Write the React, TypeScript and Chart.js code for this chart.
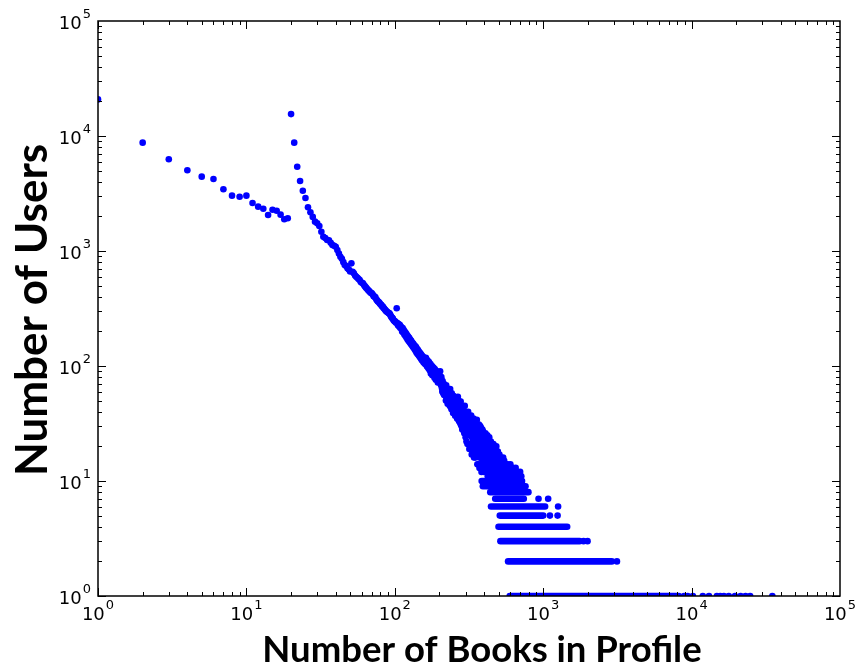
import { useEffect, useRef } from "react";
import { Chart, registerables } from "chart.js";

Chart.register(...registerables);

const BLUE = "#0000ff";

// Decade ticks shared by both log axes (base 10, exponent)
const decadeValues = [1, 10, 100, 1000, 10000, 100000];
const decadeExponents = ["0", "1", "2", "3", "4", "5"];

const xTitle = "Number of Books in Profile";
const yTitle = "Number of Users";

// Profiles with 1 to 100 books: one user count per profile size
const smallBooks = [
  1, 2, 3, 4, 5, 6, 7, 8, 9, 10, 11, 12, 13, 14, 15, 16, 17, 18, 19, 20,
  21, 22, 23, 24, 25, 26, 27, 28, 29, 30, 31, 32, 33, 34, 35, 36, 37, 38, 39, 40,
  41, 42, 43, 44, 45, 46, 47, 48, 49, 50, 51, 52, 53, 54, 55, 56, 57, 58, 59, 60,
  61, 62, 63, 64, 65, 66, 67, 68, 69, 70, 71, 72, 73, 74, 75, 76, 77, 78, 79, 80,
  81, 82, 83, 84, 85, 86, 87, 88, 89, 90, 91, 92, 93, 94, 95, 96, 97, 98, 99, 100,
];
const smallUsers = [
  20800, 8750, 6270, 5030, 4430, 4230, 3440, 3030, 2965, 3030, 2615, 2430, 2330, 2055, 2285, 2240, 2070, 1890, 1925, 15500,
  8750, 5410, 4060, 3345, 2890, 2400, 2170, 1980, 1800, 1740, 1650, 1470, 1330, 1297, 1247, 1240, 1180, 1127, 1110, 1089,
  1020, 950, 892, 857, 800, 755, 740, 707, 690, 665, 781, 661, 640, 612, 598, 585, 570, 560, 538, 530,
  524, 505, 492, 480, 470, 458, 450, 440, 432, 429, 418, 405, 401, 395, 380, 372, 363, 360, 352, 344,
  340, 331, 328, 320, 315, 308, 303, 298, 295, 292, 288, 287, 280, 272, 266, 262, 258, 251, 247, 244,
];

// Larger profiles with more than 10 users
const largeBooks = [
  101, 102, 103, 104, 105, 106, 107, 108, 109, 110, 111, 112, 113, 114, 115, 116, 117, 118, 119, 120,
  121, 122, 123, 124, 125, 126, 127, 128, 129, 130, 131, 132, 133, 134, 135, 136, 137, 138, 139, 140,
  141, 142, 143, 144, 145, 146, 147, 148, 149, 150, 151, 152, 153, 154, 155, 156, 157, 158, 159, 160,
  162, 164, 166, 168, 170, 172, 174, 176, 178, 180, 182, 184, 186, 188, 190, 192, 194, 196, 198, 200,
  202, 204, 206, 208, 210, 212, 214, 216, 218, 220, 222, 224, 226, 228, 230, 232, 234, 236, 238, 240,
  242, 244, 246, 248, 250, 252, 254, 256, 258, 260, 262, 264, 266, 268, 270, 272, 274, 276, 278, 280,
  282, 284, 286, 288, 290, 292, 294, 296, 298, 300,
  303, 306, 309, 312, 315, 318, 321, 324, 327, 330, 333, 336, 339, 342, 345, 348, 351, 354, 357, 360,
  363, 366, 369, 372, 375, 378, 381, 384, 387, 390, 393, 396, 399, 402, 405, 408, 411, 414, 417, 420,
  423, 426, 429, 432, 435, 438, 441, 444, 447, 450, 453, 456, 459, 462, 465, 468, 471, 474, 477, 480,
  483, 486, 489, 492, 495, 498, 501, 504, 507, 510, 513, 516, 519, 522, 525, 528, 531, 534, 537, 540,
  543, 546, 549, 552, 555, 558,
  565, 571, 577, 583, 589, 595, 601, 607, 614, 621, 628, 636, 644, 652, 660, 669, 678, 688, 699, 712,
];
const largeUsers = [
  243, 238, 318, 236, 226, 232, 221, 228, 214, 220, 212, 200, 214, 196, 205, 188, 198, 182, 192, 176,
  186, 170, 180, 165, 176, 161, 170, 156, 166, 152, 160, 148, 157, 144, 152, 140, 149, 136, 146, 131,
  141, 128, 138, 125, 134, 122, 131, 119, 128, 116, 125, 113, 122, 111, 120, 108, 117, 106, 114, 104,
  118, 101, 112, 97, 108, 92, 104, 90, 100, 86, 97, 84, 94, 80, 91, 78, 88, 75, 85, 73,
  90, 70, 80, 64, 74, 58, 70, 61, 66, 55, 68, 52, 62, 49, 60, 54, 46, 63, 51, 44,
  58, 48, 42, 55, 46, 40, 53, 44, 38, 50, 41, 36, 54, 44, 34, 47, 39, 32, 49, 37,
  30, 44, 35, 28, 41, 33, 26, 45, 31, 24,
  36, 27, 21, 40, 30, 19, 34, 25, 37, 17, 29, 22, 35, 16, 27, 32, 19, 24, 34, 14,
  28, 21, 31, 13, 25, 18, 29, 12, 23, 15, 27, 20, 12, 24, 17, 26, 13, 21, 15, 25,
  11, 19, 23, 14, 21, 12, 18, 22, 13, 16, 20, 11, 17, 21, 12, 15, 19, 13, 17, 11,
  20, 14, 16, 12, 18, 13, 15, 11, 17, 14, 12, 16, 13, 11, 15, 12, 14, 11, 16, 13,
  12, 15, 11, 13, 14, 11,
  13, 12, 14, 11, 13, 12, 14, 11, 12, 13, 11, 12, 11, 13, 11, 12, 11, 11, 12, 11,
];

// Remaining profile sizes in the 161–560 range
const midBooks = [
  161, 163, 165, 167, 169, 171, 173, 175, 177, 179, 181, 183, 185, 187, 189, 191, 193, 195, 197, 199,
  201, 203, 205, 207, 209, 211, 213, 215, 217, 219, 221, 223, 225, 227, 229, 231, 233, 235, 237, 239,
  241, 243, 245, 247, 249, 251, 253, 255, 257, 259, 261, 263, 265, 267, 269, 271, 273, 275, 277, 279,
  281, 283, 285, 287, 289, 291, 293, 295, 297, 299,
  301, 304, 307, 310, 313, 316, 319, 322, 325, 328, 331, 334, 337, 340, 343, 346, 349, 352, 355, 358,
  361, 364, 367, 370, 373, 376, 379, 382, 385, 388, 391, 394, 397, 400, 403, 406, 409, 412, 415, 418,
  421, 424, 427, 430, 433, 436, 439, 442, 445, 448, 451, 454, 457, 460, 463, 466, 469, 472, 475, 478,
  481, 484, 487, 490, 493, 496, 499, 502, 505, 508, 511, 514, 517, 520, 523, 526, 529, 532, 535, 538,
  541, 544, 547, 550, 553, 556,
  362, 365, 368, 371, 374, 377, 380, 383, 386, 389, 392, 395, 398, 401, 404, 407, 410, 413, 416, 419,
  422, 425, 428, 431, 434, 437, 440, 443, 446, 449, 452, 455, 458, 461, 464, 467, 470, 473, 476, 479,
  482, 485, 488, 491, 494, 497, 500, 503, 506, 509, 512, 515, 518, 521, 524, 527, 530, 533, 536, 539,
  542, 545, 548, 551, 554, 557, 560,
];
const midUsers = [
  110, 106, 99, 109, 95, 101, 96, 86, 94, 83, 91, 88, 79, 85, 76, 86, 80, 72, 82, 77,
  82, 76, 68, 72, 60, 66, 63, 56, 64, 59, 50, 58, 61, 47, 55, 50, 58, 45, 56, 50,
  42, 52, 47, 39, 49, 53, 43, 37, 47, 41, 48, 35, 44, 39, 50, 33, 42, 37, 45, 31,
  40, 35, 28, 43, 32, 37, 27, 40, 29, 35,
  30, 22, 38, 26, 33, 21, 28, 36, 20, 31, 24, 18, 30, 26, 33, 20, 16, 28, 22, 30,
  17, 25, 14, 27, 20, 30, 16, 24, 13, 20, 26, 14, 22, 18, 25, 12, 19, 23, 16, 13,
  22, 17, 12, 20, 24, 13, 18, 15, 20, 12, 17, 21, 13, 19, 15, 18, 12, 20, 14, 16,
  12, 18, 13, 17, 11, 15, 17, 12, 16, 13, 15, 11, 14, 12, 15, 11, 13, 15, 12, 14,
  11, 13, 12, 14, 12, 13,
  22, 18, 26, 16, 29, 21, 13, 25, 18, 28, 16, 23, 19, 14, 21, 24, 15, 19, 22, 13,
  18, 21, 15, 17, 12, 19, 16, 13, 18, 14, 12, 16, 19, 14, 17, 13, 16, 18, 12, 15,
  13, 16, 12, 15, 14, 11, 16, 13, 14, 12, 13, 14, 11, 13, 12, 14, 11, 13, 12, 11,
  14, 12, 13, 11, 12, 14, 12,
];

// Low counts (10 users and fewer) fill unbroken runs of profile sizes
const runUsers = [10, 9, 8, 7, 6, 5, 4, 3, 2, 1];
const runFirstBook = [385, 392, 440, 475, 445, 510, 500, 515, 580, 595];
const runLastBook = [720, 760, 795, 740, 1030, 1000, 1450, 1760, 2900, 7900];

// Isolated low-count profiles past the end of each run
const strayBooks = [
  930, 1080, 1260, 1110, 1250, 1870, 1990, 3140,
  8200, 8900, 9400, 10200, 11900, 13100, 14800, 15600, 16500, 17800, 19600, 21400, 23100, 24800, 35000,
];
const strayUsers = [
  7, 7, 6, 5, 5, 3, 3, 2,
  1, 1, 1, 1, 1, 1, 1, 1, 1, 1, 1, 1, 1, 1, 1,
];

const BASE_FONT = "18px 'DejaVu Sans'";
const EXP_FONT = "13px 'DejaVu Sans'";

// Inward major/minor ticks on all four sides, the plot box, decade labels and axis titles
const axisFrame = {
  id: "axisFrame",
  afterDatasetsDraw(chart: any) {
    const { ctx, chartArea, scales } = chart;
    const { left, right, top, bottom } = chartArea;
    const xs = scales.x;
    const ys = scales.y;
    ctx.save();
    ctx.strokeStyle = "#000";
    ctx.lineWidth = 1;
    ctx.beginPath();
    for (let d = 0; d < 5; d++) {
      for (let m = 1; m <= 9; m++) {
        const v = m * Math.pow(10, d);
        const len = m === 1 ? 8 : 4;
        const px = Math.round(xs.getPixelForValue(v)) + 0.5;
        ctx.moveTo(px, bottom);
        ctx.lineTo(px, bottom - len);
        ctx.moveTo(px, top);
        ctx.lineTo(px, top + len);
        const py = Math.round(ys.getPixelForValue(v)) + 0.5;
        ctx.moveTo(left, py);
        ctx.lineTo(left + len, py);
        ctx.moveTo(right, py);
        ctx.lineTo(right - len, py);
      }
    }
    ctx.stroke();
    ctx.lineWidth = 1.5;
    ctx.strokeRect(left, top, right - left, bottom - top);

    // decade labels: "10" with a raised exponent
    ctx.fillStyle = "#000";
    ctx.textBaseline = "alphabetic";
    ctx.textAlign = "left";
    decadeValues.forEach((v, i) => {
      const exp = decadeExponents[i];
      ctx.font = BASE_FONT;
      const wb = ctx.measureText("10").width;
      ctx.font = EXP_FONT;
      const we = ctx.measureText(exp).width;
      const total = wb + we + 1;

      const px = xs.getPixelForValue(v);
      const lx = px - total / 2;
      ctx.font = BASE_FONT;
      ctx.fillText("10", lx, bottom + 24);
      ctx.font = EXP_FONT;
      ctx.fillText(exp, lx + wb + 1, bottom + 13);

      const py = ys.getPixelForValue(v);
      const rx = left - 7 - total;
      ctx.font = BASE_FONT;
      ctx.fillText("10", rx, py + 7.5);
      ctx.font = EXP_FONT;
      ctx.fillText(exp, rx + wb + 1, py - 3);
    });

    // axis titles
    ctx.font = "bold 36.5px Lato";
    ctx.textAlign = "center";
    ctx.fillText(xTitle, 482, 662);
    ctx.save();
    ctx.translate(32.5, 310);
    ctx.rotate(-Math.PI / 2);
    ctx.font = "bold 44px Lato";
    ctx.textBaseline = "middle";
    ctx.fillText(yTitle, 0, 0);
    ctx.restore();

    ctx.restore();
  },
};

export default function App() {
  const canvasRef = useRef<HTMLCanvasElement | null>(null);

  useEffect(() => {
    const canvas = canvasRef.current;
    if (!canvas) return;

    const dotStyle = {
      pointRadius: 3.3,
      pointBorderWidth: 0,
      pointBackgroundColor: BLUE,
      backgroundColor: BLUE,
      borderColor: BLUE,
      showLine: false,
    };

    const runSets = runUsers.map((u, i) => ({
      label: `run-${u}`,
      data: [
        { x: runFirstBook[i], y: u },
        { x: runLastBook[i], y: u },
      ],
      showLine: true,
      borderColor: BLUE,
      backgroundColor: BLUE,
      borderWidth: 6.6,
      borderCapStyle: "round" as const,
      pointRadius: 0,
    }));

    const chart = new Chart(canvas, {
      type: "scatter",
      data: {
        datasets: [
          {
            label: "small",
            data: smallBooks.map((b, i) => ({ x: b, y: smallUsers[i] })),
            ...dotStyle,
          },
          {
            label: "large",
            data: largeBooks.map((b, i) => ({ x: b, y: largeUsers[i] })),
            ...dotStyle,
          },
          {
            label: "mid",
            data: midBooks.map((b, i) => ({ x: b, y: midUsers[i] })),
            ...dotStyle,
          },
          {
            label: "stray",
            data: strayBooks.map((b, i) => ({ x: b, y: strayUsers[i] })),
            ...dotStyle,
          },
          ...runSets,
        ] as any,
      },
      options: {
        animation: false,
        responsive: false,
        devicePixelRatio: 1,
        events: [],
        layout: { padding: { top: 21, right: 22, left: 0, bottom: 0 } },
        plugins: {
          legend: { display: false },
          tooltip: { enabled: false },
        },
        scales: {
          x: {
            type: "logarithmic",
            position: "bottom",
            min: 1,
            max: 100000,
            grid: { display: false },
            border: { display: false },
            ticks: { display: false },
            afterFit: (s: any) => {
              s.height = 75;
            },
          },
          y: {
            type: "logarithmic",
            position: "left",
            min: 1,
            max: 100000,
            grid: { display: false },
            border: { display: false },
            ticks: { display: false },
            afterFit: (s: any) => {
              s.width = 98;
            },
          },
        },
      } as any,
      plugins: [axisFrame],
    });

    return () => chart.destroy();
  }, []);

  return (
    <div style={{ position: "absolute", left: 0, top: 0, width: 862, height: 671, background: "#fff" }}>
      <canvas ref={canvasRef} width={862} height={671} />
    </div>
  );
}
